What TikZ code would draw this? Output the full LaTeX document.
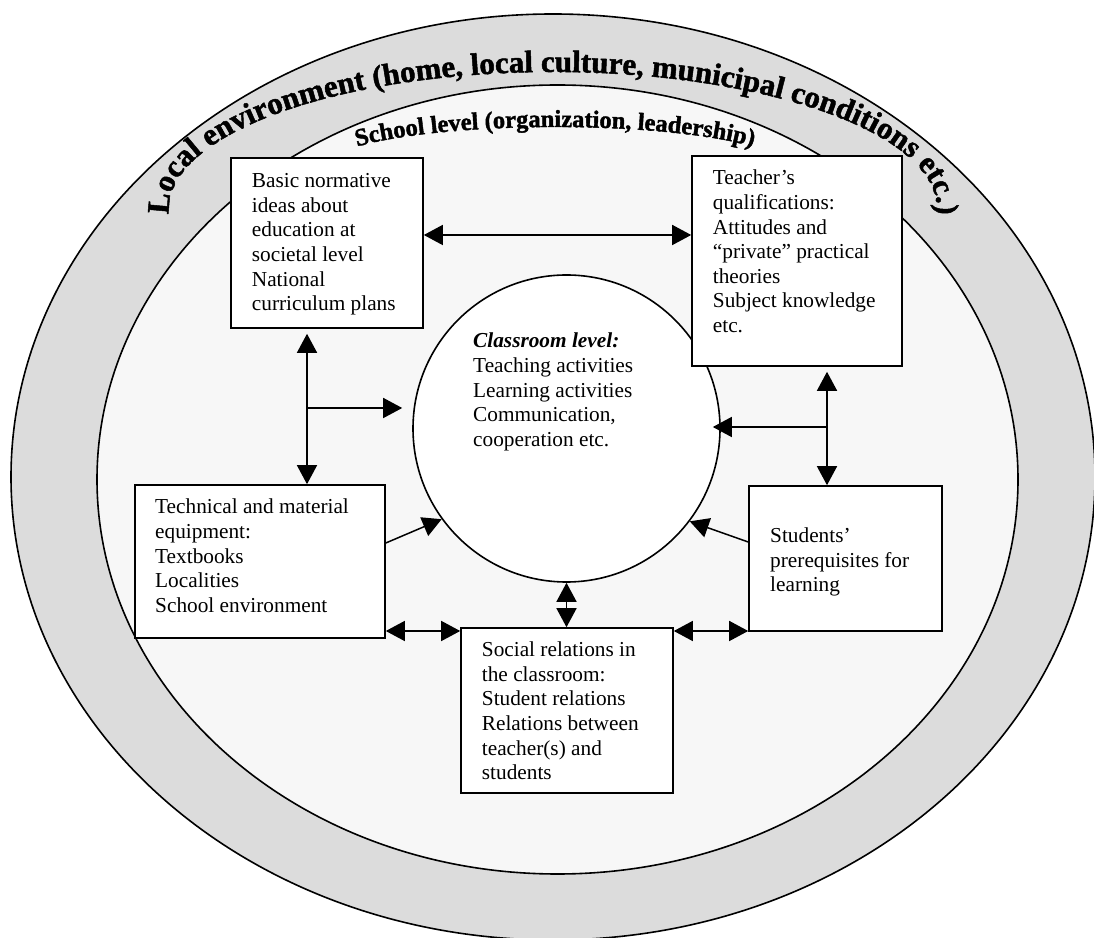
\documentclass[tikz,border=0pt]{standalone}
\usepackage{fontspec}
\setmainfont{Liberation Serif}
\newfontfamily\wordart{Liberation Serif Bold}[FakeBold=1.6]
\usetikzlibrary{arrows.meta,calc,decorations.text}

\definecolor{bandgray}{RGB}{220,220,220}
\definecolor{schoolgray}{RGB}{247,247,247}

\begin{document}
\begin{tikzpicture}[x=1pt,y=1pt,
  ring/.style={draw, line width=1.6pt},
  box/.style={draw, line width=1.6pt, fill=white, inner sep=0pt, rectangle},
  % multi-line text: the base anchor sits on the last line
  boxtext/.style={anchor=base west, align=left, inner sep=0pt,
                  font=\fontsize{21.3}{24.6}\selectfont},
  link/.style={line width=1.5pt},
  tip/.style={-{Triangle[length=19pt,width=20pt]}},
  dbl/.style={{Triangle[length=19pt,width=20pt]}-{Triangle[length=19pt,width=20pt]}},
]
\useasboundingbox (0,0) rectangle (1094,937);
\fill[white] (0,0) rectangle (1094,937);

% outer band: local environment
\draw[ring, fill=bandgray] (553,460) ellipse [x radius=542pt, y radius=463pt];
% inner region: school level
\draw[ring, fill=schoolgray] (557.5,457.5) ellipse [x radius=460.5pt, y radius=394.5pt];

% arched titles
\path[decorate, decoration={text along path, text align=center,
    text format delimiters={|}{|},
    text={|\fontsize{31}{31}\selectfont\wordart|Local environment (home, local culture, municipal conditions etc.)}}]
  (553,728.5) ++(195:384pt and 136.5pt)
  arc[start angle=195, end angle=-15, x radius=384pt, y radius=136.5pt];

\path[decorate, decoration={text along path, text align=center,
    text format delimiters={|}{|},
    text={|\fontsize{24.5}{24.5}\selectfont\wordart|School level (organization, leadership)}}]
  (555,770) ++(170:230pt and 40pt)
  arc[start angle=170, end angle=10, x radius=230pt, y radius=40pt];

% classroom level
\node[draw, circle, line width=1.6pt, fill=white, minimum size=307pt, inner sep=0pt]
  (class) at (566.5,508.5) {};
\node[boxtext] (class-t) at (473,490.6)
  {\textbf{\textit{Classroom level:}}\\Teaching activities\\Learning activities\\Communication,\\cooperation etc.};

% factor boxes
\node[box, minimum width=192pt, minimum height=170pt] (basic) at (327,694) {};
\node[box, minimum width=210pt, minimum height=210pt] (teacher) at (797,676) {};
\node[box, minimum width=250pt, minimum height=153pt] (tech) at (260,375.5) {};
\node[box, minimum width=193pt, minimum height=145pt] (students) at (845.5,378.5) {};
\node[box, minimum width=212pt, minimum height=165pt] (social) at (567,226.5) {};

\node[boxtext] (basic-t) at (251.7,626.3)
  {Basic normative\\ideas about\\education at\\societal level\\National\\curriculum plans};
\node[boxtext] (teacher-t) at (712.7,604.4)
  {Teacher’s\\qualifications:\\Attitudes and\\“private” practical\\theories\\Subject knowledge\\etc.};
\node[boxtext] (tech-t) at (155,324.6)
  {Technical and material\\equipment:\\Textbooks\\Localities\\School environment};
\node[boxtext] (students-t) at (770,345.1)
  {Students’\\prerequisites for\\learning};
\node[boxtext] (social-t) at (481.7,157.3)
  {Social relations in\\the classroom:\\Student relations\\Relations between\\teacher(s) and\\students};

% connectors
\coordinate (row) at (0,702);
\coordinate (low) at (0,306);
\coordinate (jl) at (307,529);
\coordinate (jr) at (827,510);

\draw[link,dbl] (basic.east |- row) -- (teacher.west |- row);
\draw[link,dbl] ($(basic.south -| jl)+(0,-5)$) -- (tech.north -| jl);
\draw[link,tip] (jl) -- ($(jl -| class.west)+(-10,0)$);
\draw[link,dbl] ($(teacher.south -| jr)+(0,-5)$) -- (students.north -| jr);
\draw[link,tip] (jr) -- ($(jr -| class.east)+(-8,0)$);
\draw[link,tip] ($(tech.east)+(0,18.5)$) -- (class.216);
\draw[link,tip] ($(students.west)+(0,16.5)$) -- (class.323);
\draw[link,dbl] (class.south) -- (social.north -| class.south);
\draw[link,dbl] (tech.east |- low) -- (social.west |- low);
\draw[link,dbl] (social.east |- low) -- (students.west |- low);
\end{tikzpicture}
\end{document}
